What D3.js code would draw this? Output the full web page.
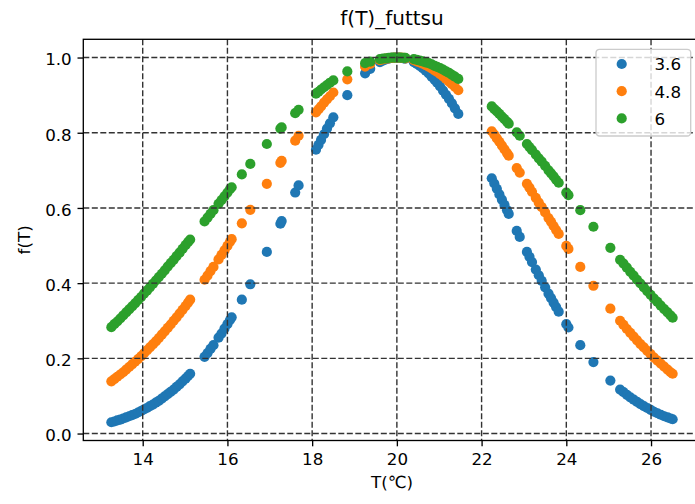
<!DOCTYPE html>
<html>
<head>
<meta charset="utf-8">
<script src="https://cdn.jsdelivr.net/npm/d3@7"></script>
<style>
  body { margin: 0; background: #fff; }
  svg { display: block; font-family: "DejaVu Sans", sans-serif; }
</style>
</head>
<body>
<svg class="chart"></svg>
<script>
var width = 695,
    height = 504;

// water temperature samples (°C)
var temps = [13.26,13.33,13.40,13.47,13.54,13.61,13.68,13.75,13.82,13.89,13.96,14.03,14.10,14.17,14.24,14.31,14.38,14.45,14.52,14.59,14.66,14.73,14.80,14.87,14.94,15.01,15.07,15.12,
  15.46,15.53,15.60,15.67,
  15.79,15.86,15.93,16.00,16.06,16.10,
  16.34,16.54,16.93,17.25,17.28,17.60,17.68,
  18.09,18.15,18.21,18.28,18.35,18.42,18.50,
  18.83,19.25,19.37,
  19.60,19.67,19.74,19.81,19.88,19.95,20.02,20.09,20.16,20.20,
  20.40,20.47,20.54,20.61,20.68,20.75,20.82,20.89,20.95,
  21.02,21.09,21.16,21.23,21.30,21.37,21.45,
  22.24,22.30,22.36,22.42,22.48,22.54,22.60,22.64,
  22.83,22.90,
  23.07,23.13,23.19,23.28,23.35,23.42,23.50,23.58,23.64,23.70,23.76,23.82,
  24.00,24.05,24.33,24.64,25.04,
  25.27,25.35,25.43,25.51,25.59,25.67,25.75,25.83,25.91,25.99,26.07,26.15,26.23,26.31,26.39,26.46,26.51];

var f36 = [.030,.032,.035,.037,.040,.043,.046,.049,.052,.056,.060,.064,.068,.073,.077,.082,.087,.093,.099,.105,.111,.117,.124,.131,.139,.146,.153,.159,
  .204,.214,.225,.235,
  .255,.266,.279,.291,.302,.309,
  .356,.397,.483,.558,.565,.641,.660,
  .755,.768,.781,.796,.811,.825,.841,
  .900,.958,.970,
  .988,.992,.995,.997,.999,1.000,1.000,.999,.998,.997,
  .988,.983,.978,.972,.965,.958,.949,.941,.933,
  .923,.912,.901,.890,.878,.865,.850,
  .679,.665,.651,.636,.622,.608,.594,.584,
  .539,.523,
  .483,.470,.456,.436,.421,.406,.389,.372,.360,.348,.336,.324,
  .291,.282,.235,.190,.141,
  .117,.110,.103,.096,.090,.084,.078,.073,.068,.063,.058,.054,.050,.046,.043,.040,.038];

var f48 = [.139,.145,.151,.157,.163,.170,.177,.184,.191,.198,.205,.213,.221,.229,.237,.245,.254,.263,.272,.281,.290,.300,.309,.319,.329,.339,.348,.356,
  .409,.420,.432,.443,
  .463,.475,.487,.499,.510,.517,
  .559,.595,.664,.720,.725,.779,.792,
  .854,.862,.870,.880,.889,.897,.907,
  .942,.976,.983,
  .993,.995,.997,.998,.999,1.000,1.000,1.000,.999,.998,
  .993,.990,.987,.984,.980,.976,.971,.966,.962,
  .956,.950,.943,.936,.929,.922,.913,
  .804,.795,.785,.776,.766,.756,.746,.739,
  .706,.694,
  .664,.654,.643,.627,.614,.602,.588,.573,.563,.552,.541,.531,
  .499,.491,.443,.393,.332,
  .300,.289,.278,.268,.258,.248,.238,.229,.220,.211,.202,.194,.186,.178,.170,.163,.159];

var f60 = [.283,.291,.298,.306,.314,.322,.330,.338,.346,.355,.363,.372,.380,.389,.398,.407,.416,.425,.434,.444,.453,.462,.472,.481,.491,.501,.509,.516,
  .564,.574,.584,.594,
  .611,.621,.631,.641,.650,.655,
  .689,.717,.770,.811,.814,.852,.861,
  .904,.909,.915,.921,.927,.933,.939,
  .963,.985,.989,
  .996,.997,.998,.999,1.000,1.000,1.000,1.000,.999,.999,
  .996,.994,.992,.990,.987,.985,.982,.978,.975,
  .972,.968,.963,.959,.954,.949,.943,
  .870,.863,.857,.850,.843,.836,.829,.824,
  .801,.792,
  .770,.762,.754,.742,.732,.723,.712,.700,.692,.684,.675,.667,
  .641,.634,.594,.550,.494,
  .462,.452,.441,.430,.420,.409,.399,.389,.379,.369,.359,.350,.340,.331,.322,.314,.308];

var seriesNames = ["3.6", "4.8", "6"];
var seriesColors = ["#1f77b4", "#ff7f0e", "#2ca02c"];
var xTicks = [14, 16, 18, 20, 22, 24, 26];
var yTicks = [0.0, 0.2, 0.4, 0.6, 0.8, 1.0];

var series = [f36, f48, f60].map(function(vals, i) {
    return { name: seriesNames[i], color: seriesColors[i],
             points: temps.map(function(t, j) { return [t, vals[j]]; }) };
});

var margin = { left: 83.3, top: 39.3, right: 700.7, bottom: 440.5 };

// matplotlib style 5% margins
var xExt = d3.extent(temps),
    xPad = (xExt[1] - xExt[0]) * 0.05;
var allY = f36.concat(f48, f60),
    yExt = d3.extent(allY),
    yPad = (yExt[1] - yExt[0]) * 0.05;

var x = d3.scaleLinear()
    .domain([xExt[0] - xPad, xExt[1] + xPad])
    .range([margin.left, margin.right]);

var y = d3.scaleLinear()
    .domain([yExt[0] - yPad, yExt[1] + yPad])
    .range([margin.bottom, margin.top]);

var svg = d3.select(".chart")
    .attr("width", width)
    .attr("height", height);

svg.append("rect")
    .attr("width", width)
    .attr("height", height)
    .attr("fill", "#fff");

// points
series.forEach(function(s) {
    svg.append("g")
      .selectAll("circle")
      .data(s.points)
      .enter()
        .append("circle")
        .attr("cx", (d) => x(d[0]))
        .attr("cy", (d) => y(d[1]))
        .attr("r", 5.1)
        .attr("fill", s.color);
});

// dashed grid, drawn above the points like matplotlib does
var grid = svg.append("g")
    .attr("stroke", "#333")
    .attr("stroke-width", 1.4)
    .attr("stroke-dasharray", "6,2.5");

grid.selectAll(".gx")
    .data(xTicks)
    .enter()
      .append("line")
      .attr("x1", (d) => x(d)).attr("x2", (d) => x(d))
      .attr("y1", margin.top).attr("y2", margin.bottom);

grid.selectAll(".gy")
    .data(yTicks)
    .enter()
      .append("line")
      .attr("x1", margin.left).attr("x2", margin.right)
      .attr("y1", (d) => y(d)).attr("y2", (d) => y(d));

// axes
var xAxis = svg.append("g")
    .attr("transform", "translate(0," + margin.bottom + ")")
    .call(d3.axisBottom(x).tickValues(xTicks).tickFormat(d3.format("d")).tickSizeOuter(0).tickSize(5.8).tickPadding(5.8));

var yAxis = svg.append("g")
    .attr("transform", "translate(" + margin.left + ",0)")
    .call(d3.axisLeft(y).tickValues(yTicks).tickFormat(d3.format(".1f")).tickSizeOuter(0).tickSize(5.8).tickPadding(5.8));

[xAxis, yAxis].forEach(function(a) {
    a.select(".domain").remove();
    a.selectAll(".tick line").attr("stroke", "#000").attr("stroke-width", 1.33);
    a.selectAll(".tick text")
      .attr("fill", "#000")
      .style("font-family", "DejaVu Sans")
      .style("font-size", "16.7px");
});
xAxis.selectAll(".tick text").attr("dy", null).attr("y", 24.4);
yAxis.selectAll(".tick text").attr("dy", "0.44em");

// spines
svg.append("rect")
    .attr("x", margin.left)
    .attr("y", margin.top)
    .attr("width", margin.right - margin.left)
    .attr("height", margin.bottom - margin.top)
    .attr("fill", "none")
    .attr("stroke", "#000")
    .attr("stroke-width", 1.33);

// labels
var cx = (margin.left + margin.right) / 2;

svg.append("text")
    .attr("x", cx)
    .attr("y", 24.6)
    .attr("text-anchor", "middle")
    .style("font-size", "20px")
    .text("f(T)_futtsu");

svg.append("text")
    .attr("x", cx)
    .attr("y", 488.2)
    .attr("text-anchor", "middle")
    .style("font-size", "16.7px")
    .text("T(℃)");

svg.append("text")
    .attr("transform", "translate(30," + ((margin.top + margin.bottom) / 2) + ") rotate(-90)")
    .attr("text-anchor", "middle")
    .style("font-size", "16.7px")
    .text("f(T)");

// legend
var legend = svg.append("g")
    .attr("transform", "translate(596,49.3)");

legend.append("rect")
    .attr("width", 94.7)
    .attr("height", 86.7)
    .attr("rx", 3.5)
    .attr("fill", "#fff")
    .attr("fill-opacity", 0.8)
    .attr("stroke", "#cccccc")
    .attr("stroke-width", 1.33);

var items = legend.selectAll(".item")
    .data(series)
    .enter()
      .append("g")
      .attr("transform", (d, i) => "translate(0," + (14.7 + i * 27.2) + ")");

items.append("circle")
    .attr("cx", 25.7)
    .attr("r", 5.1)
    .attr("fill", (d) => d.color);

items.append("text")
    .attr("x", 58.5)
    .attr("y", 6.3)
    .style("font-size", "16.7px")
    .text((d) => d.name);
</script>
</body>
</html>
